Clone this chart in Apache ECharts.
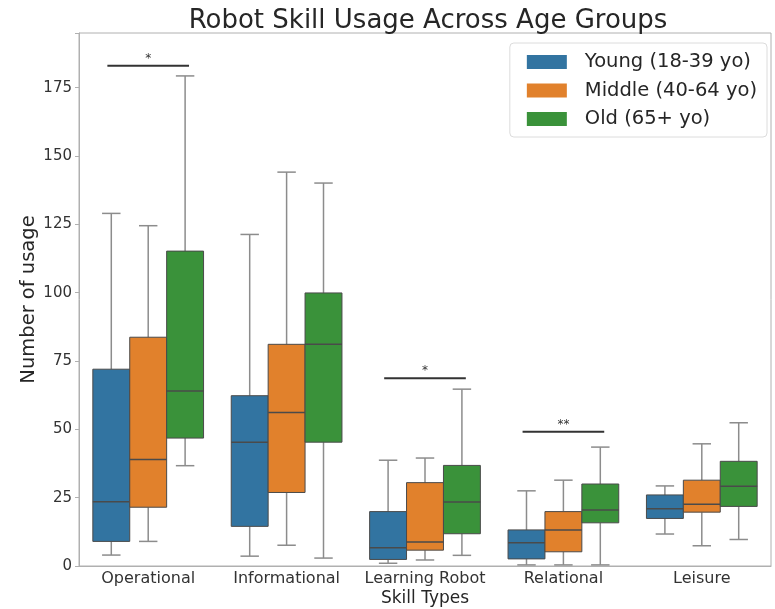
<!DOCTYPE html>
<html>
<head>
<meta charset="utf-8">
<script src="https://cdn.jsdelivr.net/npm/echarts@6/dist/echarts.min.js"></script>
<style>
  html, body { margin: 0; padding: 0; background: #fff; }
  #chart { width: 775px; height: 609px; }
</style>
</head>
<body>
<div id="chart"></div>
<script>
// Skill categories on the x axis
const categories = ['Operational', 'Informational', 'Learning Robot', 'Relational', 'Leisure'];

// Box statistics per category: [lower whisker, Q1, median, Q3, upper whisker]
const youngStats = [
  [4, 9, 23.5, 72, 129],
  [3.6, 14.5, 45.3, 62.3, 121.3],
  [1, 2.4, 6.7, 19.9, 38.7],
  [0.4, 2.6, 8.5, 13.2, 27.5],
  [11.7, 17.4, 20.9, 26, 29.3]
];
const middleStats = [
  [9, 21.5, 39, 83.7, 124.5],
  [7.6, 26.9, 56.2, 81.1, 144.1],
  [2.2, 5.8, 8.8, 30.5, 39.5],
  [0.4, 5.2, 13.2, 19.9, 31.4],
  [7.4, 19.7, 22.6, 31.4, 44.7]
];
const oldStats = [
  [36.7, 46.8, 64, 115.2, 179.3],
  [2.9, 45.3, 81.1, 99.9, 140.1],
  [3.9, 11.8, 23.4, 36.8, 64.7],
  [0.4, 15.8, 20.5, 30, 43.5],
  [9.7, 21.8, 29.2, 38.3, 52.4]
];

// Age group names
const groupNames = ['Young (18-39 yo)', 'Middle (40-64 yo)', 'Old (65+ yo)'];

// Significance brackets: category index, height, stars
const sigCategory = [0, 2, 3];
const sigHeight = [183, 68.7, 49.1];
const sigStars = ['*', '*', '**'];

// Y axis ticks
const yTicks = [0, 25, 50, 75, 100, 125, 150, 175];

const FONT = 'DejaVu Sans';
const colors = ['#3274a1', '#e1812c', '#3a923a'];
const lineColor = '#4a4a4a';

function boxSeries(name, stats, hueIndex, color) {
  return {
    name: name,
    type: 'custom',
    itemStyle: { color: color },
    data: stats.map((s, i) => [i].concat(s)),
    encode: { x: 0, y: [1, 2, 3, 4, 5] },
    renderItem: function (params, api) {
      const ci = api.value(0);
      const band = api.size([1, 0])[0];
      const boxW = band * 0.8 / 3;
      const cx = api.coord([ci, 0])[0] + (hueIndex - 1) * boxW;
      const yLo = api.coord([ci, api.value(1)])[1];
      const yQ1 = api.coord([ci, api.value(2)])[1];
      const yMed = api.coord([ci, api.value(3)])[1];
      const yQ3 = api.coord([ci, api.value(4)])[1];
      const yHi = api.coord([ci, api.value(5)])[1];
      const capHalf = boxW / 4;
      const ls = { stroke: '#8c8c8c', lineWidth: 1.5 };
      return {
        type: 'group',
        children: [
          { type: 'line', shape: { x1: cx, y1: yQ1, x2: cx, y2: yLo }, style: ls },
          { type: 'line', shape: { x1: cx, y1: yQ3, x2: cx, y2: yHi }, style: ls },
          { type: 'line', shape: { x1: cx - capHalf, y1: yLo, x2: cx + capHalf, y2: yLo }, style: ls },
          { type: 'line', shape: { x1: cx - capHalf, y1: yHi, x2: cx + capHalf, y2: yHi }, style: ls },
          {
            type: 'rect',
            shape: { x: cx - boxW / 2, y: yQ3, width: boxW, height: yQ1 - yQ3 },
            style: { fill: color, stroke: lineColor, lineWidth: 1 }
          },
          {
            type: 'line',
            shape: { x1: cx - boxW / 2, y1: yMed, x2: cx + boxW / 2, y2: yMed },
            style: { stroke: lineColor, lineWidth: 1.5 }
          }
        ]
      };
    }
  };
}

const sigSeries = {
  name: 'significance',
  type: 'custom',
  silent: true,
  data: sigCategory.map((c, i) => [c, sigHeight[i], sigStars[i]]),
  encode: { x: 0, y: 1 },
  renderItem: function (params, api) {
    const ci = api.value(0);
    const band = api.size([1, 0])[0];
    const p = api.coord([ci, api.value(1)]);
    const half = band * 0.295;
    return {
      type: 'group',
      children: [
        {
          type: 'line',
          shape: { x1: p[0] - half, y1: p[1], x2: p[0] + half, y2: p[1] },
          style: { stroke: '#333', lineWidth: 2 }
        },
        {
          type: 'text',
          style: {
            x: p[0], y: p[1] - 1,
            text: sigStars[params.dataIndex],
            fill: '#333',
            font: '12px "' + FONT + '"',
            textAlign: 'center',
            textVerticalAlign: 'bottom'
          }
        }
      ]
    };
  }
};

const chart = echarts.init(document.getElementById('chart'), null, { renderer: 'canvas' });
chart.setOption({
  backgroundColor: '#fff',
  animation: false,
  textStyle: { fontFamily: FONT },
  title: {
    text: 'Robot Skill Usage Across Age Groups',
    left: 423,
    top: 3,
    textAlign: 'center',
    textStyle: { fontFamily: FONT, fontSize: 26, fontWeight: 'normal', color: '#262626' }
  },
  legend: {
    data: groupNames,
    orient: 'vertical',
    right: 8,
    top: 43,
    icon: 'rect',
    itemWidth: 40,
    itemHeight: 14,
    itemGap: 6.5,
    padding: [8, 10, 7, 17],
    borderColor: '#dcdcdc',
    borderWidth: 1,
    borderRadius: 4,
    backgroundColor: 'rgba(255,255,255,0.8)',
    textStyle: { fontFamily: FONT, fontSize: 19.5, color: '#262626', lineHeight: 22, padding: [0, 0, 0, 13] }
  },
  grid: {
    left: 79, right: 4, top: 33, bottom: 43,
    outerBoundsMode: 'none',
    containLabel: false,
    show: true, borderColor: '#b0b0b0', borderWidth: 1, backgroundColor: 'transparent'
  },
  xAxis: {
    type: 'category',
    data: categories,
    name: 'Skill Types',
    nameLocation: 'middle',
    nameGap: 24,
    nameMoveOverlap: false,
    nameTextStyle: { fontFamily: FONT, fontSize: 17, color: '#262626' },
    axisLine: { lineStyle: { color: '#b0b0b0' } },
    axisTick: { alignWithLabel: true, length: 4, lineStyle: { color: '#b0b0b0' } },
    axisLabel: { fontFamily: FONT, fontSize: 16, color: '#333', margin: 5, interval: 0, hideOverlap: false },
    splitLine: { show: false }
  },
  yAxis: {
    type: 'value',
    min: 0,
    max: 195,
    interval: 25,
    name: 'Number of usage',
    nameLocation: 'middle',
    nameGap: 40,
    nameMoveOverlap: false,
    nameTextStyle: { fontFamily: FONT, fontSize: 19.5, color: '#262626' },
    axisLine: { show: true, lineStyle: { color: '#b0b0b0' } },
    axisTick: { show: true, length: 4, lineStyle: { color: '#b0b0b0' } },
    axisLabel: {
      fontFamily: FONT, fontSize: 15, color: '#333', margin: 7,
      formatter: v => (yTicks.indexOf(v) >= 0 ? String(v) : '')
    },
    splitLine: { show: false }
  },
  series: [
    boxSeries(groupNames[0], youngStats, 0, colors[0]),
    boxSeries(groupNames[1], middleStats, 1, colors[1]),
    boxSeries(groupNames[2], oldStats, 2, colors[2]),
    sigSeries
  ]
});
</script>
</body>
</html>
